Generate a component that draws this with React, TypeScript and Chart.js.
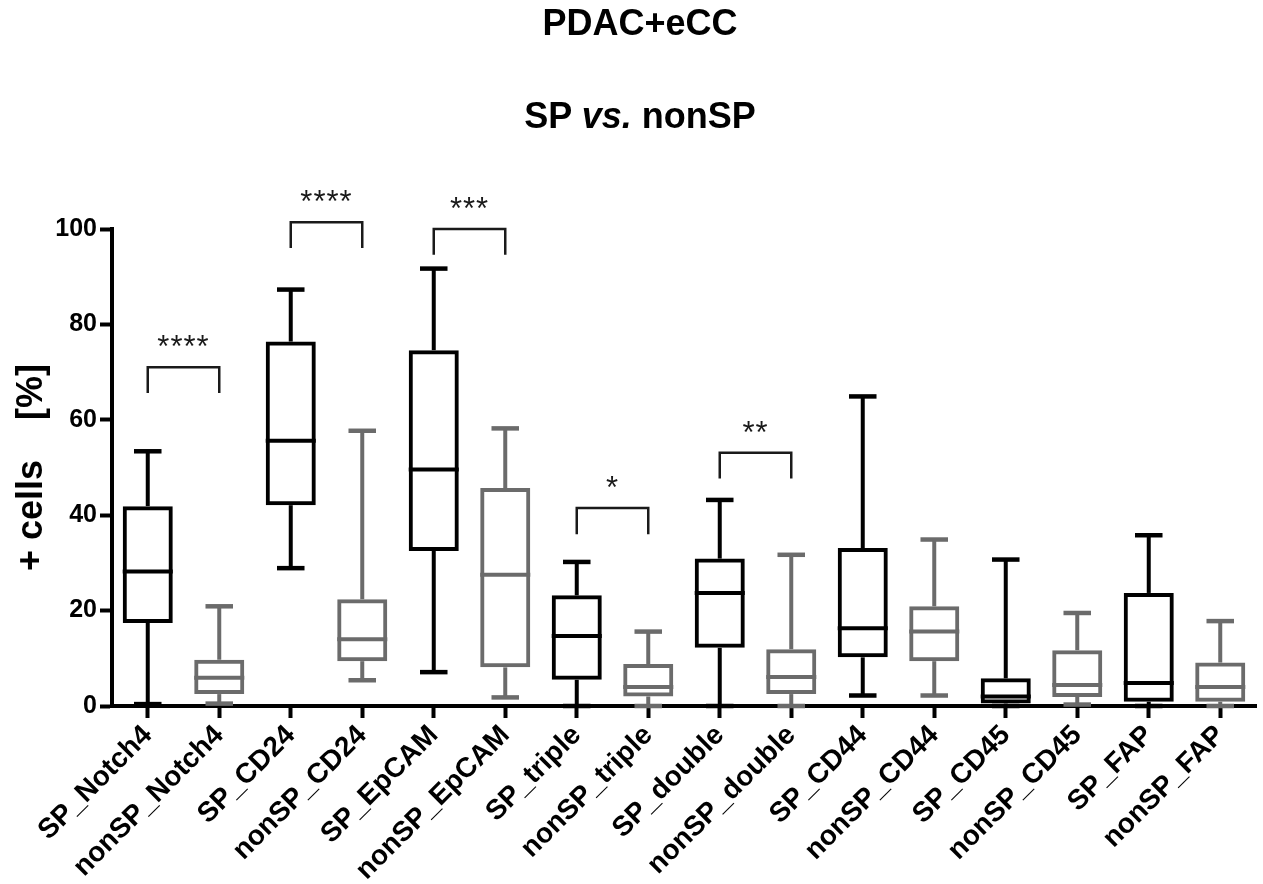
import React, { useEffect, useRef } from 'react';
import { Chart, registerables } from 'chart.js';

Chart.register(...registerables);

// ---- data ----
const categories = [
  'SP_Notch4', 'nonSP_Notch4', 'SP_CD24', 'nonSP_CD24', 'SP_EpCAM', 'nonSP_EpCAM',
  'SP_triple', 'nonSP_triple', 'SP_double', 'nonSP_double', 'SP_CD44', 'nonSP_CD44',
  'SP_CD45', 'nonSP_CD45', 'SP_FAP', 'nonSP_FAP',
];
const whiskerMin = [0.4, 0.5, 28.9, 5.4, 7.1, 1.8, 0, 0, 0, 0, 2.2, 2.2, 0, 0.3, 0, 0];
const q1 = [17.4, 2.5, 42.1, 9.4, 32.5, 8.1, 5.5, 2.0, 12.2, 2.5, 10.2, 9.4, 0.5, 1.9, 0.9, 0.9];
const median = [28.2, 5.9, 55.6, 14.0, 49.6, 27.5, 14.7, 4.0, 23.7, 6.1, 16.3, 15.6, 2.0, 4.4, 4.8, 4.0];
const q3 = [41.9, 9.7, 76.4, 22.4, 74.6, 45.7, 23.2, 8.8, 30.9, 11.9, 33.1, 20.9, 5.8, 11.7, 23.7, 9.1];
const whiskerMax = [53.4, 20.9, 87.3, 57.7, 91.7, 58.2, 30.2, 15.6, 43.2, 31.7, 64.9, 34.9, 30.7, 19.5, 35.8, 17.8];

const yTickValues = [0, 20, 40, 60, 80, 100];

const bracketFrom = ['SP_Notch4', 'SP_CD24', 'SP_EpCAM', 'SP_triple', 'SP_double'];
const bracketTo = ['nonSP_Notch4', 'nonSP_CD24', 'nonSP_EpCAM', 'nonSP_triple', 'nonSP_double'];
const bracketTop = [71.0, 101.4, 100.0, 41.5, 53.1];
const bracketTip = [65.6, 96.0, 94.6, 36.0, 47.7];
const bracketLabel = ['****', '****', '***', '*', '**'];

// ---- styles ----
const FONT = '"Liberation Sans", Arial, Helvetica, sans-serif';
const SP_COLOR = '#000000';
const NONSP_COLOR = '#6b6b6b';
const LINE_W = 4;

const colorFor = (i: number) => (categories[i].startsWith('SP_') ? SP_COLOR : NONSP_COLOR);

const boxExtras = {
  id: 'boxExtras',
  afterDatasetsDraw(chart: any) {
    const ctx: CanvasRenderingContext2D = chart.ctx;
    const ys = chart.scales.y;
    const xs = chart.scales.x;
    const meta = chart.getDatasetMeta(0);
    ctx.save();
    const seg = (x1: number, y1: number, x2: number, y2: number) => {
      ctx.beginPath();
      ctx.moveTo(x1, y1);
      ctx.lineTo(x2, y2);
      ctx.stroke();
    };
    meta.data.forEach((bar: any, i: number) => {
      const x = bar.x;
      const w = bar.width;
      const cap = w * 0.55;
      ctx.strokeStyle = colorFor(i);
      ctx.lineWidth = LINE_W;
      ctx.lineCap = 'butt';
      const pMax = ys.getPixelForValue(whiskerMax[i]);
      const pMin = ys.getPixelForValue(whiskerMin[i]);
      const pQ1 = ys.getPixelForValue(q1[i]);
      const pQ3 = ys.getPixelForValue(q3[i]);
      const pMed = ys.getPixelForValue(median[i]);
      seg(x, pQ3, x, pMax);
      seg(x, pQ1, x, pMin);
      ctx.lineWidth = LINE_W + 0.5;
      seg(x - cap / 2, pMax, x + cap / 2, pMax);
      seg(x - cap / 2, pMin, x + cap / 2, pMin);
      ctx.lineWidth = LINE_W;
      seg(x - w / 2, pMed, x + w / 2, pMed);
    });

    // significance brackets
    ctx.strokeStyle = '#1a1a1a';
    ctx.lineWidth = 2.5;
    ctx.fillStyle = '#1a1a1a';
    ctx.font = `31px ${FONT}`;
    (ctx as any).letterSpacing = '1px';
    ctx.textAlign = 'center';
    ctx.textBaseline = 'alphabetic';
    bracketFrom.forEach((from, k) => {
      const xa = xs.getPixelForValue(categories.indexOf(from));
      const xb = xs.getPixelForValue(categories.indexOf(bracketTo[k]));
      const yt = ys.getPixelForValue(bracketTop[k]);
      const yb = ys.getPixelForValue(bracketTip[k]);
      ctx.beginPath();
      ctx.moveTo(xa, yb);
      ctx.lineTo(xa, yt);
      ctx.lineTo(xb, yt);
      ctx.lineTo(xb, yb);
      ctx.stroke();
      ctx.fillText(bracketLabel[k], (xa + xb) / 2, yt - 10);
    });
    ctx.restore();
  },
};

const titleStyle = (top: number): React.CSSProperties => ({
  position: 'absolute',
  left: 0,
  top,
  width: 1280,
  textAlign: 'center',
  fontFamily: FONT,
  fontWeight: 'bold',
  fontSize: 36,
  lineHeight: '36px',
  color: '#000',
  whiteSpace: 'pre',
});

export default function App() {
  const ref = useRef<HTMLCanvasElement>(null);

  useEffect(() => {
    if (!ref.current) return;
    const chart = new Chart(ref.current, {
      type: 'bar',
      data: {
        labels: categories,
        datasets: [
          {
            data: categories.map((_, i) => [q1[i], q3[i]]) as any,
            backgroundColor: 'rgba(0,0,0,0)',
            borderColor: categories.map((_, i) => colorFor(i)),
            borderWidth: LINE_W,
            borderSkipped: false,
            barPercentage: 0.7,
            categoryPercentage: 1.0,
          },
        ],
      },
      options: {
        responsive: false,
        animation: false,
        devicePixelRatio: 1,
        layout: { padding: { left: 0, right: 7, top: 229, bottom: 0 } },
        plugins: {
          legend: { display: false },
          tooltip: { enabled: false },
        },
        scales: {
          x: {
            offset: true,
            afterFit: (s: any) => {
              s.height = 884 - 706;
            },
            grid: {
              display: true,
              offset: false,
              drawOnChartArea: false,
              drawTicks: true,
              tickLength: 12,
              tickWidth: LINE_W,
              tickColor: '#000',
            },
            border: { display: true, color: '#000', width: LINE_W },
            ticks: {
              autoSkip: false,
              maxRotation: 45,
              minRotation: 45,
              padding: 1,
              color: '#000',
              font: { family: FONT, size: 28, weight: 'bold' },
            },
          },
          y: {
            min: 0,
            max: 100,
            afterFit: (s: any) => {
              s.width = 112;
            },
            afterBuildTicks: (s: any) => {
              s.ticks = yTickValues.map((v) => ({ value: v }));
            },
            grid: {
              display: true,
              drawOnChartArea: false,
              drawTicks: true,
              tickLength: 12,
              tickWidth: LINE_W,
              tickColor: '#000',
            },
            border: { display: true, color: '#000', width: LINE_W },
            ticks: {
              padding: 3,
              color: '#000',
              font: { family: FONT, size: 25, weight: 'bold' },
            },
            title: {
              display: true,
              text: '+ cells    [%]',
              color: '#000',
              font: { family: FONT, size: 36, weight: 'bold' },
              padding: { top: 10, bottom: 0 },
            },
          },
        },
      },
      plugins: [boxExtras],
    });
    return () => chart.destroy();
  }, []);

  return (
    <div
      style={{
        position: 'absolute',
        left: 0,
        top: 0,
        width: 1263,
        height: 884,
        background: '#fff',
        overflow: 'hidden',
      }}
    >
      <canvas
        ref={ref}
        width={1263}
        height={884}
        style={{ position: 'absolute', left: 0, top: 0, width: 1263, height: 884 }}
      />
      <div style={titleStyle(5)}>PDAC+eCC</div>
      <div style={titleStyle(98)}>
        SP <i>vs.</i> nonSP
      </div>
    </div>
  );
}
